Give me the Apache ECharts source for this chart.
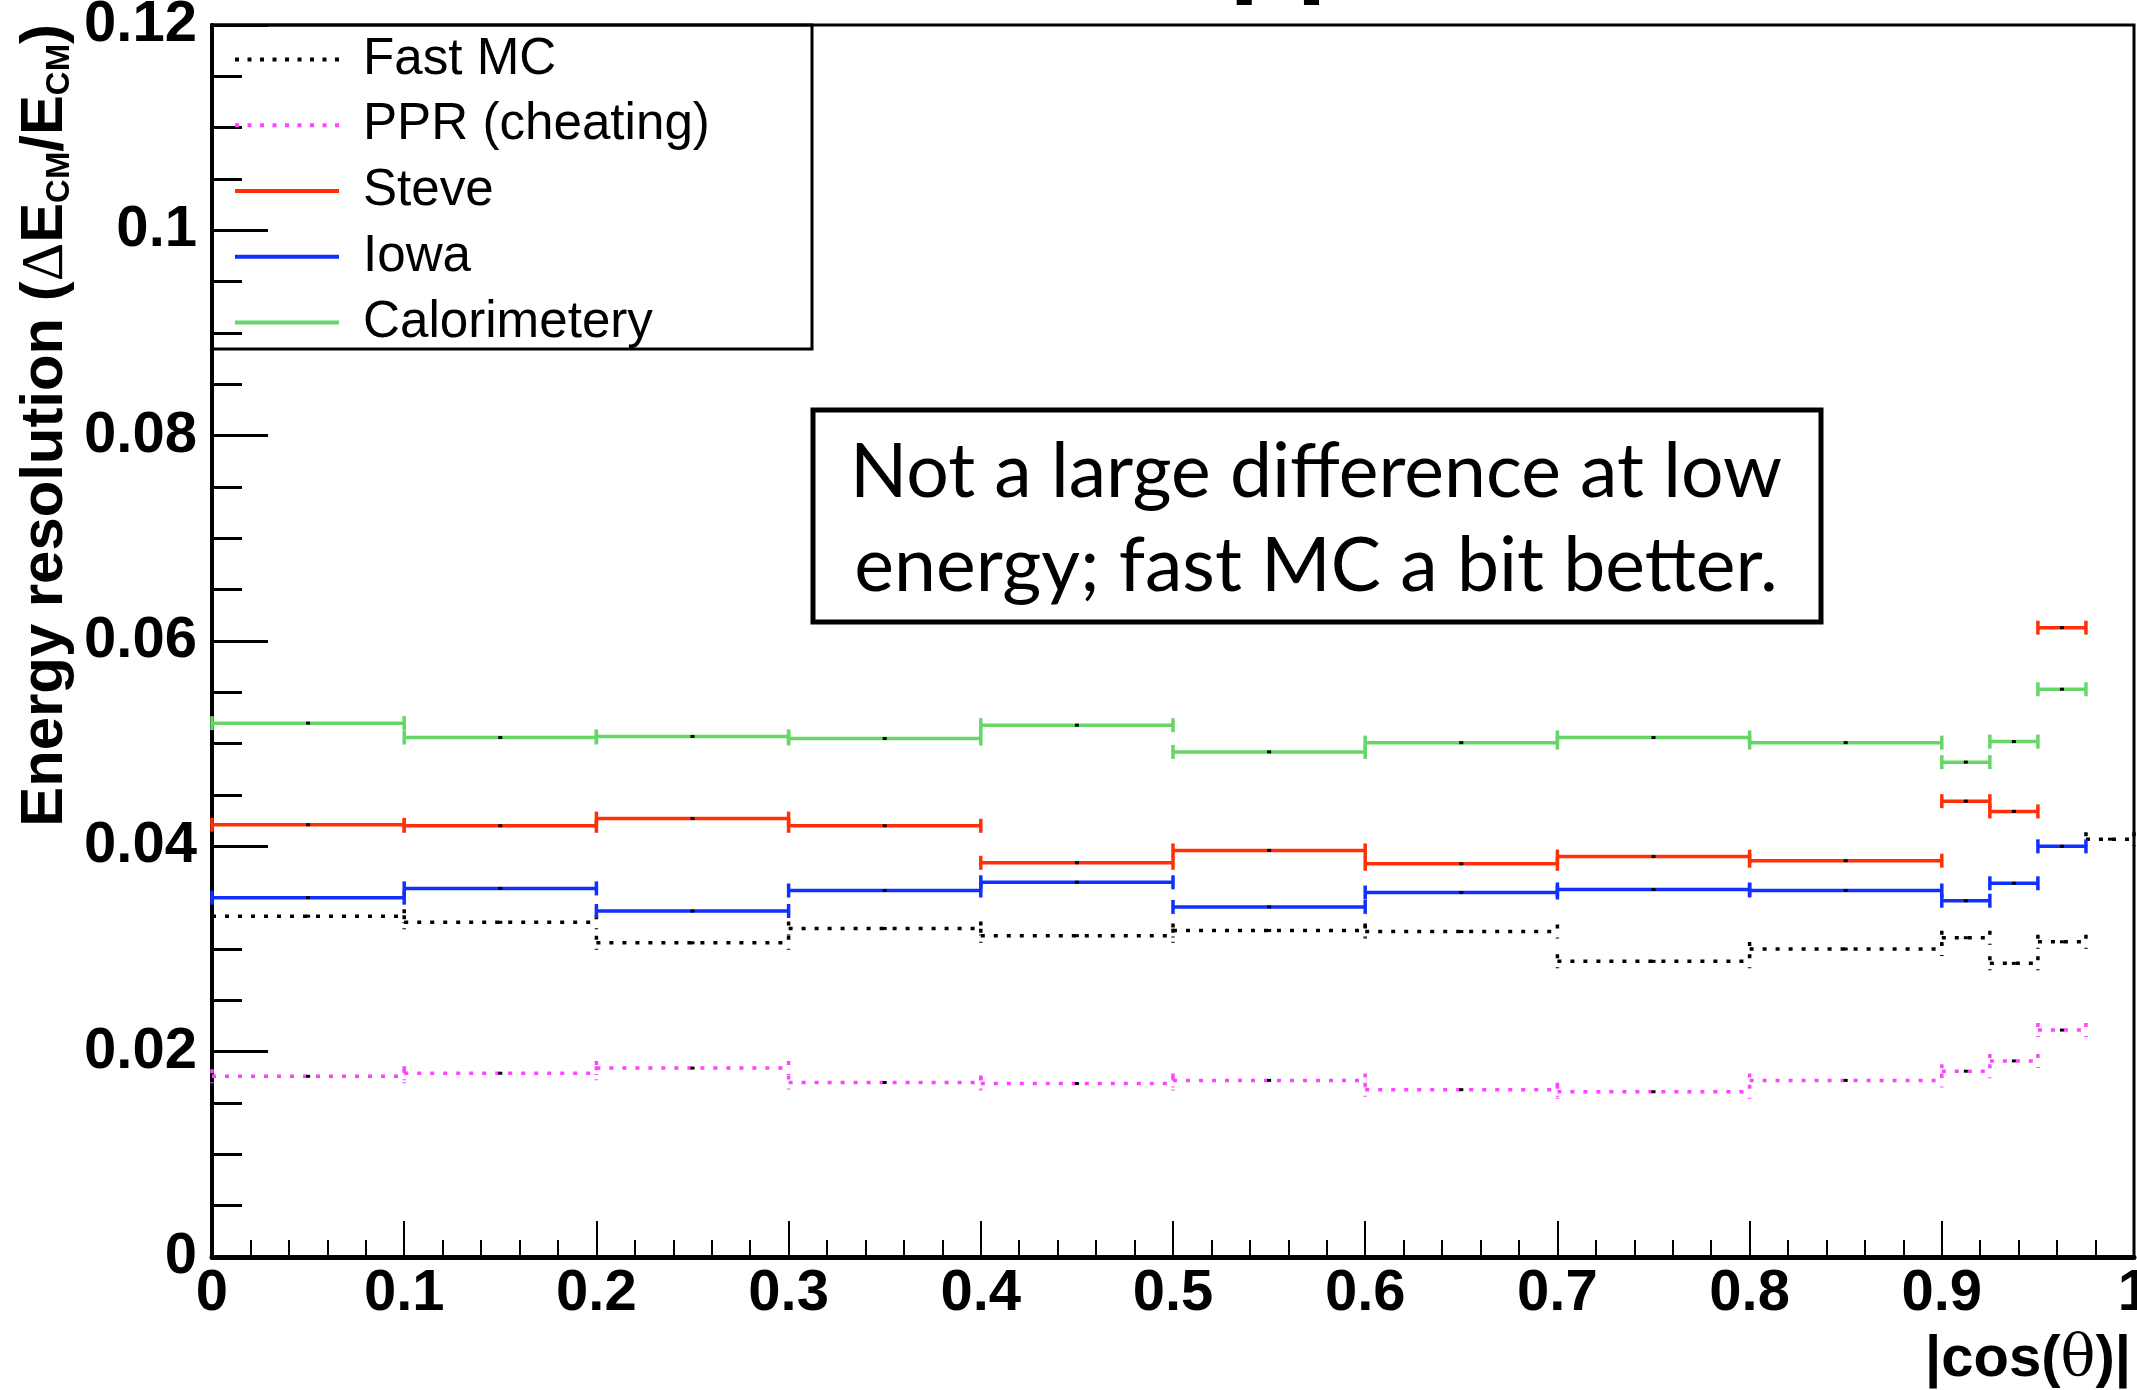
<!DOCTYPE html>
<html>
<head>
<meta charset="utf-8">
<script src="https://cdn.jsdelivr.net/npm/echarts@6/dist/echarts.min.js"></script>
<style>
  html, body { margin: 0; padding: 0; background: #fff; }
  #chart { width: 2137px; height: 1390px; }
</style>
</head>
<body>
<div id="chart"></div>
<script>
// ---------------- data ----------------
const binEdges = [0, 0.1, 0.2, 0.3, 0.4, 0.5, 0.6, 0.7, 0.8, 0.9, 0.925, 0.95, 0.975, 1.0];
const seriesNames = ['Fast MC', 'PPR (cheating)', 'Steve', 'Iowa', 'Calorimetery'];
const fastMC = [0.0332, 0.0326, 0.0306, 0.0320, 0.0313, 0.0318, 0.0317, 0.0288, 0.0300, 0.0311, 0.0286, 0.0307, 0.0407];
const ppr    = [0.0176, 0.0179, 0.0184, 0.0170, 0.0169, 0.0172, 0.0163, 0.0161, 0.0172, 0.0181, 0.0191, 0.0221, null];
const steve  = [0.0421, 0.0420, 0.0427, 0.0420, 0.0384, 0.0396, 0.0383, 0.0390, 0.0386, 0.0444, 0.0434, 0.0613, null];
const iowa   = [0.0350, 0.0359, 0.0337, 0.0357, 0.0365, 0.0341, 0.0355, 0.0358, 0.0357, 0.0347, 0.0364, 0.0400, null];
const calor  = [0.0520, 0.0506, 0.0507, 0.0505, 0.0518, 0.0492, 0.0501, 0.0506, 0.0501, 0.0482, 0.0502, 0.0553, null];
const xTicks = [0, 0.1, 0.2, 0.3, 0.4, 0.5, 0.6, 0.7, 0.8, 0.9, 1];
const yTicks = [0, 0.02, 0.04, 0.06, 0.08, 0.1, 0.12];
const annotationLines = ['Not a large difference at low', 'energy; fast MC a bit better.'];
const titleFragment = 'pp';

// ---------------- styling helpers ----------------
const SANS = "'Liberation Sans', Arial, Helvetica, sans-serif";
const ctx = document.createElement('canvas').getContext('2d');
function textW(str, size, weight, family) {
  ctx.font = weight + ' ' + size + 'px ' + family;
  return ctx.measureText(str).width;
}

function binData(vals) {
  const out = [];
  vals.forEach((v, i) => { if (v != null) out.push([binEdges[i], binEdges[i + 1], v]); });
  return out;
}

function makeRender(color, dashed) {
  return function (params, api) {
    const lo = api.value(0), hi = api.value(1), v = api.value(2);
    const a = api.coord([lo, v]);
    const b = api.coord([hi, v]);
    const st = { stroke: color, lineWidth: 3.5, fill: null, lineDash: dashed ? [4, 9] : null };
    const cap = 7;
    return {
      type: 'group',
      children: [
        { type: 'line', shape: { x1: a[0], y1: a[1], x2: b[0], y2: b[1] }, style: st },
        { type: 'line', shape: { x1: a[0], y1: a[1] - cap, x2: a[0], y2: a[1] + cap }, style: st },
        { type: 'line', shape: { x1: b[0], y1: b[1] - cap, x2: b[0], y2: b[1] + cap }, style: st },
        { type: 'rect', shape: { x: (a[0] + b[0]) / 2 - 2, y: a[1] - 1.5, width: 4, height: 3 }, style: { fill: '#000' } }
      ]
    };
  };
}

const colors = ['#000000', '#ff44ff', '#ff3008', '#1030ff', '#66d666'];
const dashedFlags = [true, true, false, false, false];
const allVals = [fastMC, ppr, steve, iowa, calor];

let dotted = '';
for (let i = 0; i < 9; i++) dotted += 'M' + (i * 12.5) + ',0h4v4h-4Z';
const iconDotted = 'path://' + dotted;
const iconSolid = 'path://M0,0H104V4H0Z';

// font fits
const legendFS = 51 * 347 / textW('PPR (cheating)', 51, 'normal', SANS);
const annFont = "Lato, 'Open Sans', sans-serif";
const annFS = 80 * 932 / textW(annotationLines[0], 80, 'normal', annFont);
const yTitleTot = textW('Energy resolution (', 60, 'bold', SANS) + textW('\u0394', 60, 'normal', "'Liberation Serif', serif") +
  textW('E', 60, 'bold', SANS) + textW('/E', 60, 'bold', SANS) +
  textW(')', 60, 'bold', SANS) + 2 * textW('CM', 33, 'bold', SANS);
const yScale = 803 / yTitleTot;

const series = seriesNames.map((name, k) => ({
  type: 'custom',
  name: name,
  data: binData(allVals[k]),
  encode: { x: [0, 1], y: 2 },
  renderItem: makeRender(colors[k], dashedFlags[k]),
  itemStyle: { color: colors[k] },
  z: 2 + k
}));

const tickFmt = (list) => (v) => {
  const hit = list.find(t => Math.abs(t - v) < 1e-9);
  return hit === undefined ? '' : String(hit);
};

const option = {
  animation: false,
  backgroundColor: '#ffffff',
  grid: {
    left: 212, right: 3, top: 25, bottom: 133,
    containLabel: false,
    outerBoundsMode: 'none',
    show: true, borderColor: '#000', borderWidth: 3, backgroundColor: 'transparent'
  },
  xAxis: {
    type: 'value', min: 0, max: 1, interval: 0.1,
    axisLine: { show: true, onZero: false, lineStyle: { color: '#000', width: 5 } },
    axisTick: { show: true, inside: true, length: 36, lineStyle: { color: '#000', width: 2 } },
    minorTick: { show: true, splitNumber: 5, length: 17, lineStyle: { color: '#000', width: 2 } },
    splitLine: { show: false },
    axisLabel: {
      color: '#000', fontFamily: SANS, fontWeight: 'bold', fontSize: 58, margin: 8,
      formatter: tickFmt(xTicks), showMinLabel: true, showMaxLabel: true, hideOverlap: false
    }
  },
  yAxis: {
    type: 'value', min: 0, max: 0.12, interval: 0.02,
    axisLine: { show: true, onZero: false, lineStyle: { color: '#000', width: 4 } },
    axisTick: { show: true, inside: true, length: 56, lineStyle: { color: '#000', width: 3 } },
    minorTick: { show: true, splitNumber: 4, length: 30, lineStyle: { color: '#000', width: 3 } },
    splitLine: { show: false },
    axisLabel: {
      color: '#000', fontFamily: SANS, fontWeight: 'bold', fontSize: 58, margin: 15,
      formatter: tickFmt(yTicks), showMinLabel: true, showMaxLabel: true, hideOverlap: false
    }
  },
  legend: {
    orient: 'vertical',
    left: 235, top: 34, padding: 0,
    itemWidth: 104, itemHeight: 4, itemGap: 14.75,
    selectedMode: false,
    itemStyle: { borderWidth: 0 },
    textStyle: { fontFamily: SANS, fontSize: legendFS, color: '#000', lineHeight: 50, padding: [0, 0, 0, 19] },
    data: seriesNames.map((n, k) => ({ name: n, icon: dashedFlags[k] ? iconDotted : iconSolid }))
  },
  graphic: [
    { type: 'text', z: 51, x: 1229, y: -48,
      style: { text: titleFragment, font: 'bold 110px ' + SANS, fill: '#000', align: 'left', verticalAlign: 'middle' } },
    { type: 'rect', z: 50, shape: { x: 212, y: 25, width: 600, height: 324 },
      style: { fill: 'none', stroke: '#000', lineWidth: 3 } },
    { type: 'rect', z: 50, shape: { x: 813, y: 410, width: 1008, height: 212 },
      style: { fill: '#fff', stroke: '#000', lineWidth: 5 } },
    { type: 'text', z: 51, x: 1316, y: 473,
      style: { text: annotationLines[0], font: 'normal ' + annFS + 'px ' + annFont, fill: '#000', align: 'center', verticalAlign: 'middle' } },
    { type: 'text', z: 51, x: 1316, y: 567,
      style: { text: annotationLines[1], font: 'normal ' + annFS + 'px ' + annFont, fill: '#000', align: 'center', verticalAlign: 'middle' } },
    { type: 'text', z: 51, x: 46, y: 24, rotation: Math.PI / 2,
      style: {
        text: '{n|Energy resolution (}{d|\u0394}{n|E}{s|CM}{n|/E}{s|CM}{n|)}',
        align: 'right', verticalAlign: 'middle',
        rich: {
          n: { fontSize: 60 * yScale, fontWeight: 'bold', fontFamily: SANS, fill: '#000', lineHeight: 60 * yScale, verticalAlign: 'bottom' },
          d: { fontSize: 60 * yScale, fontWeight: 'normal', fontFamily: "'Liberation Serif', serif", fill: '#000', lineHeight: 60 * yScale, verticalAlign: 'bottom' },
          s: { fontSize: 33 * yScale, fontWeight: 'bold', fontFamily: SANS, fill: '#000', lineHeight: 33 * yScale, verticalAlign: 'bottom' }
        }
      } },
    { type: 'text', z: 51, x: 2131, y: 1360,
      style: {
        text: '{b||cos(}{t|\u03b8}{b|)|}',
        align: 'right', verticalAlign: 'middle',
        rich: {
          b: { fontSize: 58, fontWeight: 'bold', fontFamily: SANS, fill: '#000' },
          t: { fontSize: 58, fontWeight: 'normal', fontFamily: "'DejaVu Serif', 'Liberation Serif', serif", fill: '#000' }
        }
      } }
  ],
  series: series
};

const chart = echarts.init(document.getElementById('chart'), null, { renderer: 'canvas' });
chart.setOption(option);
</script>
</body>
</html>
